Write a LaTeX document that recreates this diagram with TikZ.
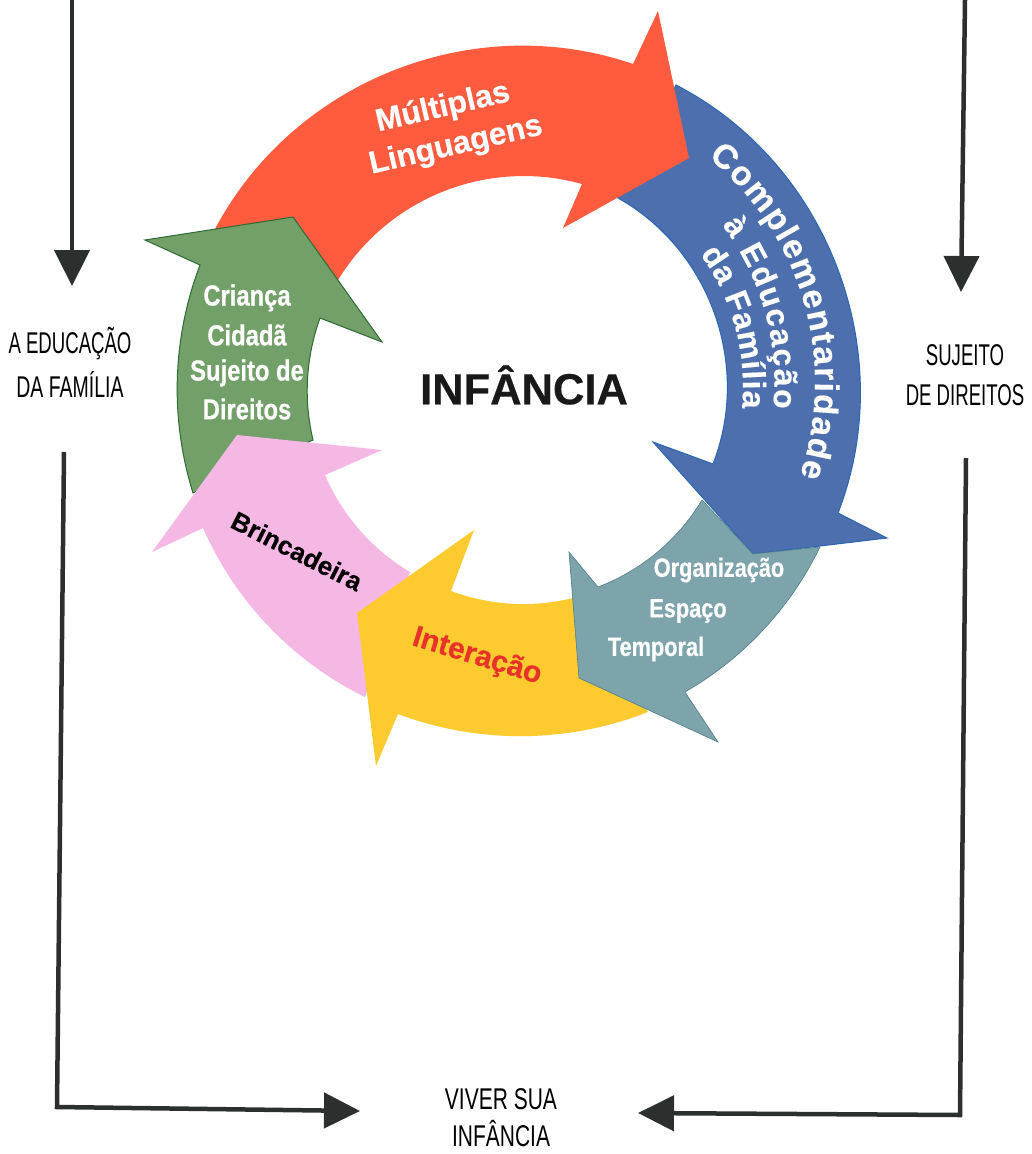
\documentclass[tikz,border=0pt]{standalone}
\usepackage{fontspec}
\setmainfont[BoldFeatures={FakeBold=0.4}]{Liberation Sans}
\newfontfamily\condfont[FakeStretch=0.62]{Liberation Sans}
\newfontfamily\widecondfont[FakeStretch=0.70]{Liberation Sans}
\newfontfamily\midcondfont[FakeStretch=0.65]{Liberation Sans}
\newfontfamily\labfont[FakeStretch=0.82,BoldFeatures={FakeStretch=0.82,FakeBold=0.5}]{Liberation Sans}
\usetikzlibrary{arrows.meta,decorations.text}
\definecolor{cred}{HTML}{FF5B3F}
\definecolor{cblue}{HTML}{4E6FAE}
\definecolor{cblueedge}{HTML}{2A66B0}
\definecolor{cteal}{HTML}{7DA3AB}
\definecolor{ctealedge}{HTML}{4F7F88}
\definecolor{cyellow}{HTML}{FDCB30}
\definecolor{cpink}{HTML}{F5B7E3}
\definecolor{cgreen}{HTML}{73A068}
\definecolor{cgreenedge}{HTML}{2D6B35}
\definecolor{cdark}{HTML}{2B2F2E}
\definecolor{cinter}{HTML}{E8332A}
\newcommand\compfont{\bfseries\fontsize{34}{34}\selectfont}
\newcommand\edufont{\bfseries\fontsize{32}{32}\selectfont}
\tikzset{
  x=1pt,y=-1pt,
  flow/.style={line width=4.5pt,draw=cdark,line join=miter,-{Triangle[length=36pt,width=35pt,fill=cdark]}},
  side/.style={font=\condfont\fontsize{30}{30}\selectfont,text=black,inner sep=0pt},
  sidemid/.style={font=\midcondfont\fontsize{30}{30}\selectfont,text=black,inner sep=0pt},
  sidewide/.style={font=\widecondfont\fontsize{30}{30}\selectfont,text=black,inner sep=0pt},
  lab/.style={font=\bfseries\fontsize{#1}{#1}\selectfont,inner sep=0pt},
  clab/.style={font=\labfont\bfseries\fontsize{#1}{#1}\selectfont,inner sep=0pt},
  curved/.style n args={2}{decorate,decoration={text along path,text color=white,text align=fit to path,text={|#1|#2}}},
  arcs/.style={looseness=.88}
}
\begin{document}
\begin{tikzpicture}
\useasboundingbox (0,0) rectangle (1032,1154);
\fill[white] (0,0) rectangle (1032,1154);
% ring
\path[fill=cblue,draw=cblueedge,line width=1pt] (676,85) to[bend left=42,looseness=.96] (838,513) -- (887,538) -- (753,554) -- (653,442) -- (713,464) to[bend right=41,looseness=.96] (618,198) -- cycle;
\path[fill=cred] (215,229) to[bend left=40.5,looseness=.96] (633,64) -- (658,11) -- (689,158) -- (563,228) -- (582,184) to[bend right=37,looseness=.95] (338,280) -- cycle;
\path[fill=cgreen,draw=cgreenedge,line width=1pt] (193,493) to[bend left=19,arcs] (200,265) -- (145,240) -- (293,217) -- (382,342) -- (320,318) to[bend right=16.5,arcs] (313,440) -- cycle;
\path[fill=cpink] (365,697) to[bend left=20,arcs] (203,528) -- (152,552) -- (237,435) -- (382,450) -- (325,475) to[bend right=18,arcs] (410,572) -- cycle;
\path[fill=cyellow] (648,712) to[bend left=21,arcs] (398,714) -- (376,766) -- (357,613) -- (474,530) -- (451,591) to[bend right=17,arcs] (573,598) -- cycle;
\path[fill=cteal,draw=ctealedge,line width=.6pt] (820,547) to[bend left=17,arcs] (685,692) -- (718,742) -- (579,678) -- (569,552) -- (598,587) to[bend right=19,arcs] (702,500) -- (753,554) -- cycle;
% labels on the ring
\node[lab=43.5,text=black!90] (infancia) at (524,385) {INFÂNCIA};
\node[lab=31.5,text=white,rotate=13] (multiplas) at (443,108) {Múltiplas};
\node[lab=31.5,text=white,rotate=13] (linguagens) at (456,146) {Linguagens};
\path[curved={\compfont}{Complementaridade}] (708,157) to[bend left=34,looseness=.95] (800,476);
\path[curved={\edufont}{à Educação}] (722,225) to[bend left=21.5,arcs] (773,408);
\path[curved={\edufont}{da Família}] (700,254) to[bend left=20.7,arcs] (742,408);
\node[clab=26.5,text=white] (organizacao) at (719,570) {Organização};
\node[clab=26.5,text=white] (espaco) at (688,611) {Espaço};
\node[clab=26.5,text=white] (temporal) at (656,649) {Temporal};
\node[lab=30,text=cinter,rotate=-17] (interacao) at (477,657) {Interação};
\node[lab=26,text=black,rotate=-27] (brincadeira) at (297,551) {Brincadeira};
\node[clab=29,text=white] (crianca) at (247,298) {Criança};
\node[clab=29,text=white] (cidada) at (247,335) {Cidadã};
\node[clab=29,text=white] (sujeito) at (247,373) {Sujeito de};
\node[clab=29,text=white] (direitos) at (247,409) {Direitos};
% side labels
\node[side] (educ1) at (70,344) {A EDUCAÇÃO};
\node[sidemid] (educ2) at (70,384) {DA FAMÍLIA};
\node[side] (suj1) at (965,355) {SUJEITO};
\node[side] (suj2) at (965,395) {DE DIREITOS};
\node[sidewide] (viver1) at (501,1099) {VIVER SUA};
\node[sidewide] (viver2) at (501,1134) {INFÂNCIA};
% connectors
\coordinate (ltop) at (72,0);
\coordinate (lhead) at (72,286);
\coordinate (rtop) at (965,0);
\coordinate (rhead) at (961,292);
\coordinate (lstart) at (64,452);
\coordinate (lcorner) at (57,1107);
\coordinate (lend) at (360,1111);
\coordinate (rstart) at (966,458);
\coordinate (rcorner) at (960,1115);
\coordinate (rend) at (638,1113);
\draw[flow] (ltop) -- (lhead);
\draw[flow] (rtop) -- (rhead);
\draw[flow] (lstart) -- (lcorner) -- (lend);
\draw[flow] (rstart) -- (rcorner) -- (rend);
\end{tikzpicture}
\end{document}
